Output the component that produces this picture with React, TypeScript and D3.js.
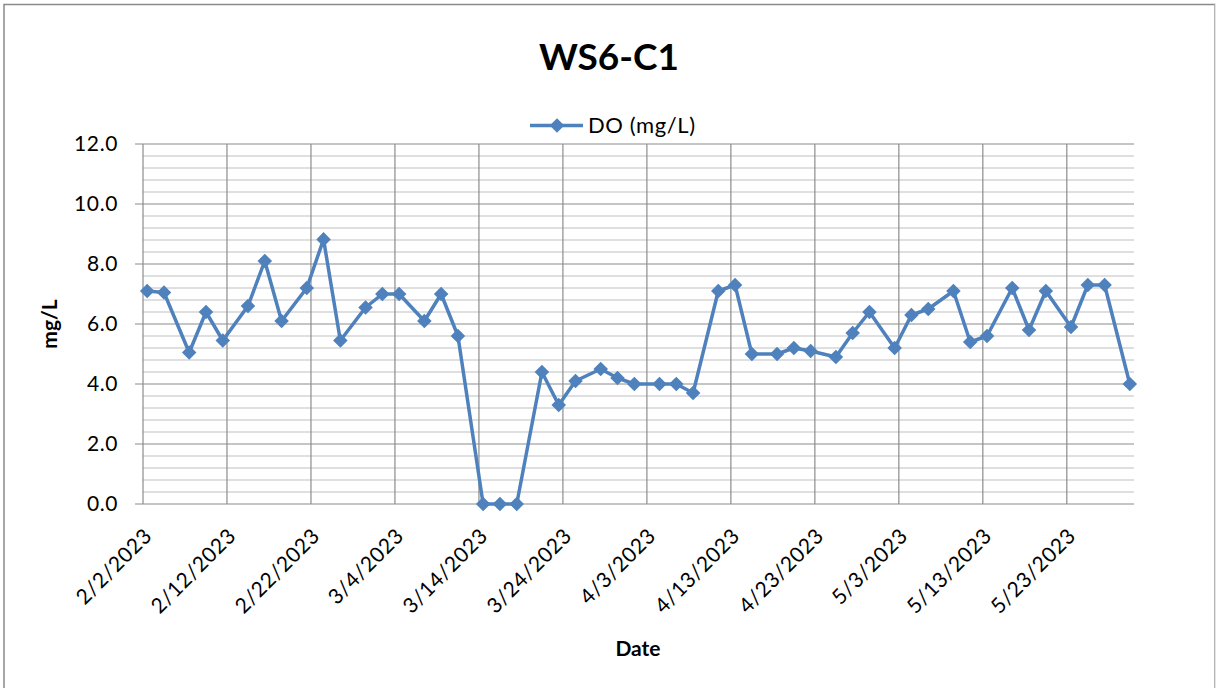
import React, { useEffect, useRef } from "react";
import * as d3 from "d3";

// sampling days, counted from 2/2/2023 (Mon/Wed/Fri-ish schedule)
const dayOffsets = [0, 2, 5, 7, 9, 12, 14, 16, 19, 21, 23, 26, 28, 30, 33, 35, 37, 40, 42, 44, 47, 49, 51, 54, 56, 58, 61, 63, 65, 68, 70, 72, 75, 77, 79, 82, 84, 86, 89, 91, 93, 96, 98, 100, 103, 105, 107, 110, 112, 114, 117];
const doValues = [7.1, 7.05, 5.05, 6.4, 5.45, 6.6, 8.1, 6.1, 7.2, 8.82, 5.45, 6.55, 7.0, 7.0, 6.1, 7.0, 5.6, 0.0, 0.0, 0.0, 4.4, 3.3, 4.1, 4.5, 4.2, 4.0, 4.0, 4.0, 3.7, 7.1, 7.3, 5.0, 5.0, 5.2, 5.1, 4.9, 5.7, 6.4, 5.2, 6.3, 6.5, 7.1, 5.4, 5.6, 7.2, 5.8, 7.1, 5.9, 7.3, 7.3, 4.0];
const yTicks = [0, 2, 4, 6, 8, 10, 12];
const xTickLabels = ["2/2/2023", "2/12/2023", "2/22/2023", "3/4/2023", "3/14/2023", "3/24/2023", "4/3/2023", "4/13/2023", "4/23/2023", "5/3/2023", "5/13/2023", "5/23/2023"];

const chartTitle = "WS6-C1";
const seriesName = "DO (mg/L)";

export default function App() {
    const svgRef = useRef(null);

    useEffect(() => {
        const svg = d3.select(svgRef.current);
        svg.selectAll("*").remove();

        var w = 1216, h = 688;
        var font = "Lato, 'Open Sans', sans-serif";
        var lineColor = "#4f81bd";
        var majorGrid = "#8c8c8c";
        var minorGrid = "#c0c0c0";
        var labelSize = "21px";
        var spacing = "0.6px";

        var start = new Date(2023, 1, 2);
        var dates = dayOffsets.map(d => d3.timeDay.offset(start, d));
        var end = d3.timeDay.offset(start, 118);

        var x = d3.scaleTime().domain([start, end]).range([143, 1134]);
        var y = d3.scaleLinear().domain([0, 12]).range([504, 144]);
        // points sit in the middle of their day
        var px = (d) => x(d3.timeHour.offset(d, 12));

        // chart border (bottom edge runs off the picture)
        svg.append("rect").attr("x", 4).attr("y", 4.5).attr("width", 1211).attr("height", h + 20)
            .style("fill", "white").style("stroke", "#8a8a8a").style("stroke-width", 1.5);
        svg.append("line").attr("x1", 1215.5).attr("x2", 1215.5).attr("y1", 4).attr("y2", h)
            .style("stroke", "#e4e4e4").style("stroke-width", 1.5);

        var g = svg.append("g");

        // minor gridlines
        var minorVals = d3.range(0, 12.001, 0.4).filter(v => Math.abs(v / 2 - Math.round(v / 2)) > 1e-6);
        g.selectAll(".minor").data(minorVals).enter().append("line")
            .attr("x1", x(start)).attr("x2", x(end))
            .attr("y1", d => y(d)).attr("y2", d => y(d))
            .style("stroke", minorGrid).style("stroke-width", 1.2);

        // major horizontal gridlines
        g.selectAll(".major").data(yTicks).enter().append("line")
            .attr("x1", 135).attr("x2", x(end))
            .attr("y1", d => y(d)).attr("y2", d => y(d))
            .style("stroke", majorGrid).style("stroke-width", 1.2);

        // vertical gridlines at every 10 days
        var tickDates = xTickLabels.map((_, i) => d3.timeDay.offset(start, i * 10));
        g.selectAll(".vgrid").data(tickDates).enter().append("line")
            .attr("x1", d => x(d)).attr("x2", d => x(d))
            .attr("y1", y(12)).attr("y2", y(0))
            .style("stroke", majorGrid).style("stroke-width", 1.2);

        // y tick labels
        g.selectAll(".ylab").data(yTicks).enter().append("text")
            .attr("x", 118).attr("y", d => y(d)).attr("dy", "0.35em")
            .attr("text-anchor", "end")
            .style("font-family", font).style("font-size", labelSize).style("letter-spacing", spacing).style("fill", "#000")
            .text(d => d.toFixed(1));

        // x tick labels rotated
        g.selectAll(".xlab").data(tickDates).enter().append("text")
            .attr("transform", d => "translate(" + (x(d) + 5) + "," + 532 + ") rotate(-45)")
            .attr("text-anchor", "end").attr("dy", "0.35em")
            .style("font-family", font).style("font-size", labelSize).style("letter-spacing", spacing).style("fill", "#000")
            .text((_, i) => xTickLabels[i]);

        // series line
        var line = d3.line().x((d, i) => px(dates[i])).y(d => y(d));
        g.append("path").datum(doValues).attr("d", line)
            .style("fill", "none").style("stroke", lineColor).style("stroke-width", 3.5)
            .style("stroke-linejoin", "round");

        var diamond = d3.symbol().type(d3.symbolDiamond2).size(135);
        g.selectAll(".pt").data(doValues).enter().append("path")
            .attr("d", diamond)
            .attr("transform", (d, i) => "translate(" + px(dates[i]) + "," + y(d) + ")")
            .style("fill", lineColor);

        // title
        svg.append("text").attr("x", 609).attr("y", 70).attr("text-anchor", "middle")
            .style("font-family", font).style("font-size", "37px").style("font-weight", "bold")
            .text(chartTitle);

        // legend
        svg.append("line").attr("x1", 530).attr("x2", 583).attr("y1", 125.5).attr("y2", 125.5)
            .style("stroke", lineColor).style("stroke-width", 3.5);
        svg.append("path").attr("d", diamond).attr("transform", "translate(557,125.5)").style("fill", lineColor);
        svg.append("text").attr("x", 588).attr("y", 125.5).attr("dy", "0.35em")
            .style("font-family", font).style("font-size", "22px").style("letter-spacing", spacing).text(seriesName);

        // axis titles
        svg.append("text").attr("transform", "translate(57,324) rotate(-90)").attr("text-anchor", "middle")
            .style("font-family", font).style("font-size", "21px").style("font-weight", "bold").text("mg/L");
        svg.append("text").attr("x", 638).attr("y", 656).attr("text-anchor", "middle")
            .style("font-family", font).style("font-size", "21px").style("font-weight", "bold").text("Date");
    }, []);

    return (
        <svg ref={svgRef} width={1216} height={688} style={{ position: "absolute", left: 0, top: 0 }} />
    );
}
